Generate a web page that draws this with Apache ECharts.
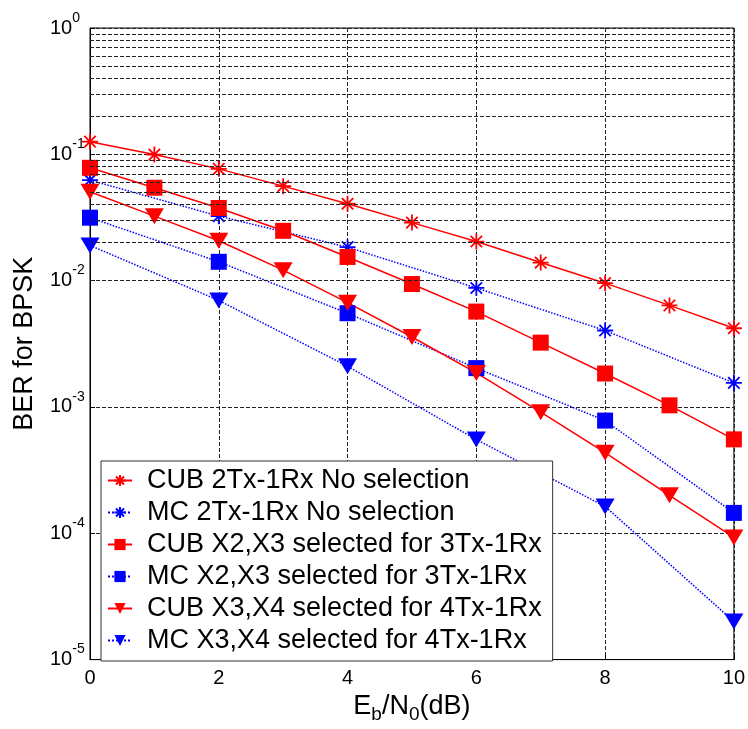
<!DOCTYPE html>
<html>
<head>
<meta charset="utf-8">
<script src="https://cdn.jsdelivr.net/npm/echarts@6/dist/echarts.min.js"></script>
<style>
  html, body { margin: 0; padding: 0; background: #fff; }
  #main { width: 748px; height: 729px; }
</style>
</head>
<body>
<div id="main"></div>
<script>
// Eb/N0 points (dB)
var snrAll = [0, 1, 2, 3, 4, 5, 6, 7, 8, 9, 10];
var snrEven = [0, 2, 4, 6, 8, 10];

// BER curves
var cubNoSel = [0.126, 0.0995, 0.0767, 0.056, 0.0406, 0.0288, 0.0204, 0.0139, 0.00955, 0.00637, 0.0042];
var mcNoSel = [0.0624, 0.0324, 0.0184, 0.00875, 0.00403, 0.00155];
var cub3Tx = [0.0782, 0.0544, 0.0376, 0.0248, 0.0154, 0.0094, 0.00569, 0.00323, 0.00184, 0.00103, 0.000554];
var mc3Tx = [0.0315, 0.0141, 0.00552, 0.00203, 0.00078, 0.000145];
var cub4Tx = [0.0506, 0.0324, 0.0207, 0.0121, 0.00669, 0.00358, 0.00186, 0.00091, 0.000435, 0.0002, 0.0000927];
var mc4Tx = [0.019, 0.00697, 0.0021, 0.000552, 0.000163, 0.00002];

var names = [
  'CUB 2Tx-1Rx No selection',
  'MC 2Tx-1Rx No selection',
  'CUB X2,X3 selected for 3Tx-1Rx',
  'MC X2,X3 selected for 3Tx-1Rx',
  'CUB X3,X4 selected for 4Tx-1Rx',
  'MC X3,X4 selected for 4Tx-1Rx'
];

var RED = '#ff0000';
var BLUE = '#0000ff';
var FONT = 'Liberation Sans';
var star = 'path://M8 0L8 16M0 8L16 8M2.3 2.3L13.7 13.7M2.3 13.7L13.7 2.3';

function pairs(xs, ys) {
  return xs.map(function (x, i) { return [x, ys[i]]; });
}

// log minor grid lines 2..9 in each decade
var minorGrid = [];
for (var d = -5; d < 0; d++) {
  for (var k = 2; k <= 9; k++) {
    minorGrid.push({ yAxis: k * Math.pow(10, d) });
  }
}

function curve(name, xs, ys, color, dotted, symbol, size, rotate) {
  return {
    name: name,
    type: 'line',
    data: pairs(xs, ys),
    z: 3,
    symbol: symbol,
    symbolSize: size,
    symbolRotate: rotate || 0,
    showAllSymbol: true,
    lineStyle: { color: color, width: 1.5, type: dotted ? 'dotted' : 'solid' },
    itemStyle: { color: color, borderColor: color, borderWidth: symbol === star ? 1.8 : 0 }
  };
}

var chart = echarts.init(document.getElementById('main'));
chart.setOption({
  animation: false,
  backgroundColor: '#fff',
  grid: {
    left: 90, right: 11, top: 28, bottom: 57,
    show: true, borderColor: '#000', borderWidth: 1
  },
  legend: {
    data: names,
    orient: 'vertical',
    left: 101,
    top: 461,
    padding: [6, 11, 7, 6],
    itemWidth: 24,
    itemHeight: 14,
    itemGap: 5,
    backgroundColor: '#fff',
    borderColor: '#333',
    borderWidth: 1,
    textStyle: { fontFamily: FONT, fontSize: 27, lineHeight: 26, color: '#000', padding: [0, 0, 0, 10] }
  },
  xAxis: {
    type: 'value',
    min: 0, max: 10, interval: 2,
    name: '{n|E}{s|b}{n|/N}{s|0}{n|(dB)}',
    nameLocation: 'middle',
    nameGap: 22,
    nameTextStyle: {
      rich: {
        n: { fontFamily: FONT, fontSize: 27, lineHeight: 34, color: '#000' },
        s: { fontFamily: FONT, fontSize: 19, lineHeight: 19, verticalAlign: 'bottom', color: '#000' }
      }
    },
    axisLine: { lineStyle: { color: '#000' } },
    axisTick: { inside: true, length: 5, lineStyle: { color: '#000' } },
    axisLabel: { fontFamily: FONT, fontSize: 20, color: '#000', margin: 9 },
    splitLine: { show: true, lineStyle: { color: '#222', type: [4, 2], width: 1 } }
  },
  yAxis: {
    type: 'log',
    logBase: 10,
    min: 1e-5, max: 1,
    name: 'BER for BPSK',
    nameLocation: 'middle',
    nameGap: 52,
    nameTextStyle: { fontFamily: FONT, fontSize: 27, color: '#000' },
    axisLine: { lineStyle: { color: '#000' } },
    axisTick: { inside: true, length: 5, lineStyle: { color: '#000' } },
    axisLabel: {
      align: 'left',
      margin: 40,
      formatter: function (v) {
        return '{b|10}{e|' + Math.round(Math.log10(v)) + '}';
      },
      rich: {
        b: { fontFamily: FONT, fontSize: 20, lineHeight: 34, color: '#000' },
        e: { fontFamily: FONT, fontSize: 14, lineHeight: 14, verticalAlign: 'top', color: '#000' }
      }
    },
    splitLine: { show: true, lineStyle: { color: '#222', type: [4, 2], width: 1 } }
  },
  series: [
    {
      name: 'minor-grid',
      type: 'line',
      data: [],
      z: 1,
      silent: true,
      markLine: {
        silent: true,
        symbol: 'none',
        label: { show: false },
        lineStyle: { color: '#222', type: [4, 2], width: 1 },
        data: minorGrid
      }
    },
    curve(names[0], snrAll, cubNoSel, RED, false, star, 16),
    curve(names[1], snrEven, mcNoSel, BLUE, true, star, 16),
    curve(names[2], snrAll, cub3Tx, RED, false, 'rect', 16),
    curve(names[3], snrEven, mc3Tx, BLUE, true, 'rect', 16),
    curve(names[4], snrAll, cub4Tx, RED, false, 'triangle', [19, 16], 180),
    curve(names[5], snrEven, mc4Tx, BLUE, true, 'triangle', [19, 16], 180)
  ]
});
</script>
</body>
</html>
